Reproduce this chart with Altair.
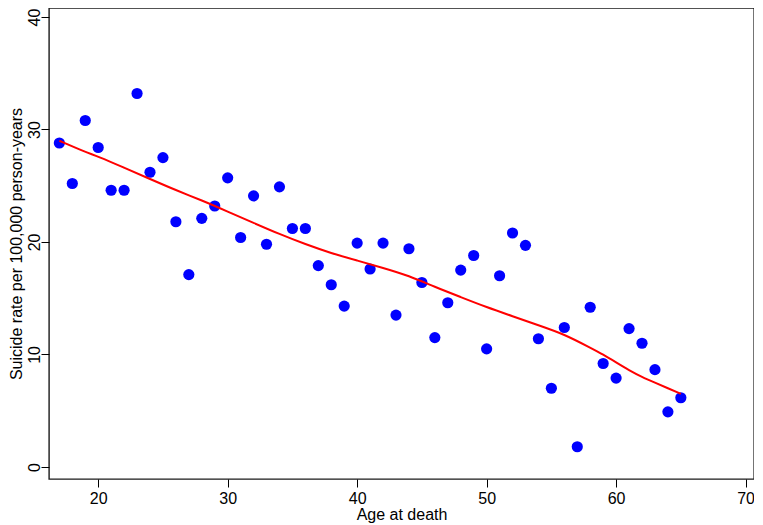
import altair as alt
import pandas as pd

# Observed suicide rates by age at death
ages = list(range(17, 66))
rates = [28.8, 25.2, 30.8, 28.4, 24.6, 24.6, 33.2, 26.2, 27.5, 21.8,
         17.1, 22.1, 23.2, 25.7, 20.4, 24.1, 19.8, 24.9, 21.2, 21.2,
         17.9, 16.2, 14.3, 19.9, 17.6, 19.9, 13.5, 19.4, 16.4, 11.5,
         14.6, 17.5, 18.8, 10.5, 17.0, 20.8, 19.7, 11.4, 7.0, 12.4,
         1.8, 14.2, 9.2, 7.9, 12.3, 11.0, 8.65, 4.9, 6.15]

# Smoothed (lowess) curve
smooth_ages = [17, 19, 20, 22, 24, 26, 28, 30, 32, 34, 36, 38, 40, 42, 44,
               46, 48, 50, 52, 54, 56, 58, 59, 60, 61, 62, 63, 64, 65]
smooth_vals = [29.0, 28.0, 27.6, 26.6, 25.6, 24.6, 23.7, 22.7, 21.7, 20.7,
               19.8, 19.0, 18.35, 17.7, 17.0, 16.0, 15.1, 14.2, 13.4, 12.6,
               11.8, 10.6, 10.0, 9.3, 8.6, 8.0, 7.5, 7.0, 6.5]

x_ticks = [20, 30, 40, 50, 60, 70]
y_ticks = [0, 10, 20, 30, 40]

pts = pd.DataFrame({"age": ages, "rate": rates})
sm = pd.DataFrame({"age": smooth_ages, "rate": smooth_vals})

FONT = "Liberation Sans"

xscale = alt.Scale(domain=[16.2, 70.65], nice=False, zero=False)
yscale = alt.Scale(domain=[-1.07, 40.8], nice=False, zero=False)

xaxis = alt.Axis(values=x_ticks, title="Age at death", grid=False, domain=False,
                 ticks=True, tickSize=8, tickColor="black", tickWidth=1,
                 labelFont=FONT, labelFontSize=16, labelColor="black",
                 labelPadding=3, labelFlush=False,
                 titleFont=FONT, titleFontSize=16, titleFontWeight="normal",
                 titleColor="black", titlePadding=0)
yaxis = alt.Axis(values=y_ticks, title="Suicide rate per 100,000 person-years",
                 grid=False, domain=False, ticks=True, tickSize=8,
                 tickColor="black", tickWidth=1,
                 labelFont=FONT, labelFontSize=16, labelColor="black",
                 labelAngle=270, labelAlign="center", labelBaseline="alphabetic",
                 labelPadding=2, labelFlush=False,
                 titleFont=FONT, titleFontSize=16, titleFontWeight="normal",
                 titleColor="black", titleAngle=270, titleBaseline="top",
                 titleAlign="center", titleX=-41)

points = alt.Chart(pts).mark_circle(color="#0000FF", opacity=1, size=125).encode(
    x=alt.X("age:Q", scale=xscale, axis=xaxis),
    y=alt.Y("rate:Q", scale=yscale, axis=yaxis),
)

line = alt.Chart(sm).mark_line(color="#FF0000", strokeWidth=2,
                               interpolate="basis").encode(
    x=alt.X("age:Q", scale=xscale),
    y=alt.Y("rate:Q", scale=yscale),
)

chart = alt.layer(points, line).properties(
    width=705, height=471,
    autosize=alt.AutoSizeParams(type="none"),
    padding={"left": 41, "top": 0, "right": 0, "bottom": 44},
    background="white",
).configure_view(stroke="#1a1a1a", strokeWidth=1.4)

chart.save("out.html", embed_options={"renderer": "svg", "actions": False})
